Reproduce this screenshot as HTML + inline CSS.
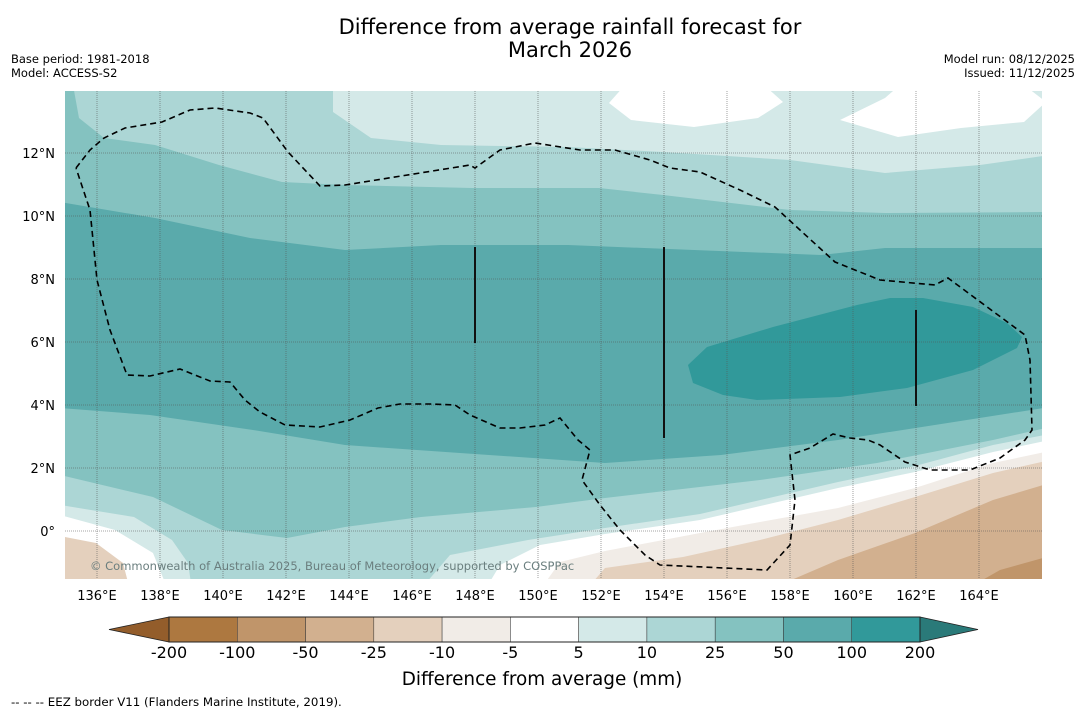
<!DOCTYPE html>
<html><head><meta charset="utf-8"><style>
html,body{margin:0;padding:0;background:#fff;}
svg{display:block;font-family:"DejaVu Sans","Liberation Sans",sans-serif;}
</style></head><body>
<svg id="chart" width="1085" height="713" viewBox="0 0 1085 713" xmlns="http://www.w3.org/2000/svg">
<defs><clipPath id="mapclip"><rect x="65" y="91" width="977" height="488"/></clipPath></defs>
<text x="570" y="34" font-size="21" text-anchor="middle">Difference from average rainfall forecast for</text>
<text x="570" y="57" font-size="21" text-anchor="middle">March 2026</text>
<text x="11" y="63" font-size="11.5">Base period: 1981-2018</text>
<text x="11" y="77" font-size="11.5">Model: ACCESS-S2</text>
<text x="1075" y="63" font-size="11.5" text-anchor="end">Model run: 08/12/2025</text>
<text x="1075" y="77" font-size="11.5" text-anchor="end">Issued: 11/12/2025</text>
<g id="map" clip-path="url(#mapclip)"></g>
<g id="axes"></g>
<g id="cbar"></g>
<text x="542" y="685" font-size="18.4" text-anchor="middle">Difference from average (mm)</text>
<text x="11" y="706" font-size="11.8">--  --  -- EEZ border V11 (Flanders Marine Institute, 2019).</text>
</svg>
<script>
const NS='http://www.w3.org/2000/svg';
const lonTicks=[136,138,140,142,144,146,148,150,152,154,156,158,160,162,164];
const latTicks=[0,2,4,6,8,10,12];
const latLabels=['0°','2°N','4°N','6°N','8°N','10°N','12°N'];
const cbarLabels=['-200','-100','-50','-25','-10','-5','5','10','25','50','100','200'];
const cbarColors=['#ad7840','#c0956a','#d2b08f','#e4d0bd','#f1ece7','#ffffff','#d4e9e8','#acd6d5','#84c2c0','#5aaaab','#31999a'];
const extLow='#935d2b', extHigh='#2a7a79';
const x=lon=>97+(lon-136)*31.5;
const y=lat=>531-lat*31.5;
function el(t,a,p){const e=document.createElementNS(NS,t);for(const k in a)e.setAttribute(k,a[k]);p.appendChild(e);return e;}
const map=document.getElementById('map');
function poly(pts,fill,name){const e=el('polygon',{points:pts.map(p=>p.join(',')).join(' '),fill:fill},map);

}
el('rect',{x:65,y:91,width:977,height:488,fill:'#5aaaab'},map);
poly([[60,80],[60,202],[155,218],[250,238],[345,250],[441,245],[568,245],[694,250],[821,255],[885,248],[1050,248],[1050,80]],'#84c2c0','contour-25-top');
poly([[73,85],[79,118],[104,138],[155,145],[219,165],[282,182],[345,185],[472,188],[599,188],[663,195],[790,210],[885,213],[1050,212],[1050,85]],'#acd6d5','contour-10-top');
poly([[333,85],[333,112],[371,138],[441,145],[568,147],[663,152],[790,160],[885,173],[980,165],[1050,155],[1050,85]],'#d4e9e8','contour-5-top');
poly([[625,85],[609,103],[631,120],[694,127],[758,118],[783,102],[764,85]],'#ffffff','contour-white-top1');
poly([[885,98],[840,120],[898,137],[961,128],[1024,122],[1046,102],[1024,85],[900,85]],'#ffffff','contour-white-top2');
poly([[60,408],[150,415],[253,430],[345,445],[460,453],[605,463],[721,455],[838,440],[954,422],[1050,407],[1050,590],[60,590]],'#84c2c0','contour-25-bottom');
poly([[60,475],[153,497],[222,530],[287,538],[345,527],[421,517],[536,507],[605,498],[760,480],[877,463],[993,440],[1050,427],[1050,590],[60,590]],'#acd6d5','contour-10-bottom');
poly([[60,505],[134,517],[172,540],[188,563],[192,590],[60,590]],'#d4e9e8','contour-5-left');
poly([[60,515],[115,530],[153,553],[168,590],[60,590]],'#ffffff','contour-white-left');
poly([[60,536],[96,543],[123,563],[130,590],[60,590]],'#e4d0bd','contour-neg10-left');
poly([[420,590],[450,555],[528,540],[605,528],[700,514],[838,482],[915,466],[993,445],[1050,434],[1050,590]],'#d4e9e8','contour-5-right');
poly([[485,590],[500,565],[540,545],[605,534],[700,520],[838,488],[915,472],[993,452],[1050,440],[1050,590]],'#ffffff','contour-white-right');
poly([[540,590],[560,562],[605,551],[700,533],[760,522],[838,508],[915,488],[993,463],[1050,451],[1050,590]],'#f1ece7','contour-neg5');
poly([[586,590],[605,568],[683,557],[760,540],[838,520],[915,497],[993,473],[1050,460],[1050,590]],'#e4d0bd','contour-neg10');
poly([[768,590],[838,560],[915,533],[993,500],[1050,483],[1050,590]],'#d2b08f','contour-neg25');
poly([[965,590],[1000,570],[1050,556],[1050,590]],'#c0956a','contour-neg50');
poly([[688,365],[707,347],[773,327],[857,305],[890,298],[923,298],[973,307],[1007,323],[1022,337],[1017,348],[973,370],[907,388],[840,397],[757,400],[723,395],[693,383]],'#31999a','contour-100');
lonTicks.forEach(l=>{const g=el('line',{x1:x(l),x2:x(l),y1:91,y2:579,stroke:'#555','stroke-width':0.8,'stroke-dasharray':'1,1','stroke-opacity':0.7},map);

});
latTicks.forEach(l=>{const g=el('line',{x1:65,x2:1042,y1:y(l),y2:y(l),stroke:'#555','stroke-width':0.8,'stroke-dasharray':'1,1','stroke-opacity':0.7},map);

});
[[475,247,343],[664,247,438],[916,310,406]].forEach(v=>{const g=el('line',{x1:v[0],x2:v[0],y1:v[1],y2:v[2],stroke:'#111','stroke-width':2},map);

});
const eez=[[76,168],[90,150],[104,138],[125,128],[162,122],[190,110],[215,108],[250,113],[263,118],[288,152],[320,186],[345,185],[470,165],[475,168],[500,150],[535,143],[580,150],[615,150],[650,160],[670,168],[700,172],[740,190],[775,207],[800,230],[835,262],[880,280],[935,285],[948,278],[1025,335],[1030,360],[1032,430],[1025,440],[1000,458],[970,470],[930,470],[905,462],[880,445],[868,440],[850,438],[833,434],[810,448],[790,455],[795,500],[790,545],[767,570],[660,565],[645,555],[620,530],[600,505],[582,480],[590,450],[578,440],[560,418],[545,425],[520,428],[500,428],[470,415],[455,405],[430,404],[400,404],[378,408],[350,420],[320,427],[285,425],[260,412],[245,400],[230,382],[210,381],[180,369],[150,376],[127,375],[110,330],[97,280],[90,210],[76,168]];
const ez=el('polyline',{points:eez.map(p=>p.join(',')).join(' '),fill:'none',stroke:'#000','stroke-width':1.6,'stroke-dasharray':'6,4'},map);


const cr=el('text',{x:90,y:570,'font-size':11.5,fill:'#6a7e7e'},map);cr.textContent='© Commonwealth of Australia 2025, Bureau of Meteorology, supported by COSPPac';


const ax=document.getElementById('axes');
lonTicks.forEach(l=>{const t=el('text',{x:x(l),y:600,'font-size':13,'text-anchor':'middle'},ax);t.textContent=l+'°E';

});
latTicks.forEach((l,i)=>{const t=el('text',{x:55,y:y(l)+5,'font-size':13,'text-anchor':'end'},ax);t.textContent=latLabels[i];

});
const cb=document.getElementById('cbar');
const cx0=169,cx1=920,cy0=617,cy1=642,bw=(cx1-cx0)/cbarColors.length;
const lo=el('polygon',{points:`${cx0},${cy0} ${cx0},${cy1} 109,${(cy0+cy1)/2}`,fill:extLow,stroke:'#222','stroke-width':0.8},cb);


const hi=el('polygon',{points:`${cx1},${cy0} ${cx1},${cy1} 978,${(cy0+cy1)/2}`,fill:extHigh,stroke:'#222','stroke-width':0.8},cb);


cbarColors.forEach((c,i)=>{const r=el('rect',{x:cx0+i*bw,y:cy0,width:bw,height:cy1-cy0,fill:c,stroke:'#333','stroke-width':0.5},cb);

});
el('rect',{x:cx0,y:cy0,width:cx1-cx0,height:cy1-cy0,fill:'none',stroke:'#222','stroke-width':1},cb);
cbarLabels.forEach((s,i)=>{const t=el('text',{x:cx0+i*bw,y:658,'font-size':16,'text-anchor':'middle'},cb);t.textContent=s;

});
</script>
</body></html>
